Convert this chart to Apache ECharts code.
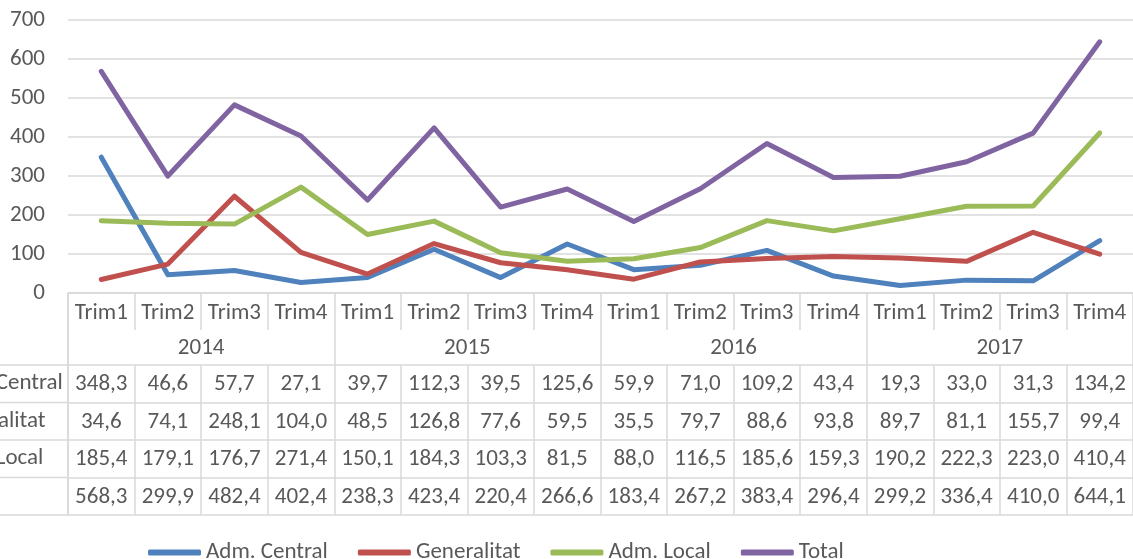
<!DOCTYPE html>
<html>
<head>
<meta charset="utf-8">
<script src="https://cdn.jsdelivr.net/npm/echarts@6/dist/echarts.min.js"></script>
<style>
html,body{margin:0;padding:0;background:#fff;}
#chart{width:1133px;height:559px;}
</style>
</head>
<body>
<div id="chart"></div>
<script>
const quarters = ["Trim1","Trim2","Trim3","Trim4","Trim1","Trim2","Trim3","Trim4","Trim1","Trim2","Trim3","Trim4","Trim1","Trim2","Trim3","Trim4"];
const years = ["2014","2015","2016","2017"];
const seriesNames = ["Adm. Central","Generalitat","Adm. Local","Total"];
const admCentral = [348.3,46.6,57.7,27.1,39.7,112.3,39.5,125.6,59.9,71.0,109.2,43.4,19.3,33.0,31.3,134.2];
const generalitat = [34.6,74.1,248.1,104.0,48.5,126.8,77.6,59.5,35.5,79.7,88.6,93.8,89.7,81.1,155.7,99.4];
const admLocal = [185.4,179.1,176.7,271.4,150.1,184.3,103.3,81.5,88.0,116.5,185.6,159.3,190.2,222.3,223.0,410.4];
const total = [568.3,299.9,482.4,402.4,238.3,423.4,220.4,266.6,183.4,267.2,383.4,296.4,299.2,336.4,410.0,644.1];
const yTicks = [0,100,200,300,400,500,600,700];

const allSeries = [admCentral, generalitat, admLocal, total];
const colors = ["#4F81BD","#C0504D","#9BBB59","#8064A2"];
const FONT = "Carlito, Calibri, 'Liberation Sans', sans-serif";
const FS = 23;
const TXT = "#595959";
const LINE = "#d9d9d9";
const fmt = v => v.toFixed(1).replace('.', ',');

const chart = echarts.init(document.getElementById('chart'), null, {renderer:'canvas'});

const ROW0 = 72;
const ROWH = 37.5;

const xAxes = [];
xAxes.push({
  type:'category', data: quarters, position:'bottom', gridIndex:0, offset:0,
  boundaryGap:true,
  axisLine:{show:true, lineStyle:{color:LINE, width:1.5}},
  axisTick:{show:true, length:37, interval:0, lineStyle:{color:LINE, width:1.5}},
  axisLabel:{interval:0, margin:9, color:TXT, fontSize:FS, fontFamily:FONT},
  splitLine:{show:false}
});
xAxes.push({
  type:'category', data: years, position:'bottom', gridIndex:0, offset:0,
  axisLine:{show:false},
  axisTick:{show:true, length:ROW0, interval:0, lineStyle:{color:LINE, width:1.5}},
  axisLabel:{interval:0, margin:44, color:TXT, fontSize:FS, fontFamily:FONT},
  splitLine:{show:false}
});
allSeries.forEach((arr, i) => {
  xAxes.push({
    type:'category', data: arr.map(fmt), position:'bottom', gridIndex:0, offset: ROW0 + ROWH*i,
    axisLine:{show:true, lineStyle:{color:LINE, width:1.5}},
    axisTick:{show:true, length:ROWH, interval:0, lineStyle:{color:LINE, width:1.5}},
    axisLabel:{interval:0, margin:8, color:TXT, fontSize:FS, fontFamily:FONT},
    splitLine:{show:false}
  });
});
xAxes.push({
  type:'category', data: quarters, position:'bottom', gridIndex:0, offset: ROW0 + ROWH*4,
  axisLine:{show:true, lineStyle:{color:LINE, width:1.5}},
  axisTick:{show:false}, axisLabel:{show:false}, splitLine:{show:false}
});

const graphics = [];
seriesNames.forEach((n, i) => {
  graphics.push({
    type:'text', left:-59, top: 293 + ROW0 + ROWH*i + 7,
    style:{text:n, fill:TXT, font: FS + 'px ' + FONT}
  });
});
for (let i = 0; i <= 4; i++) {
  const y = 293 + ROW0 + ROWH*i;
  graphics.push({type:'line', shape:{x1:0, y1:y, x2:68, y2:y}, style:{stroke:LINE, lineWidth:1.5}});
}
graphics.push({type:'line', shape:{x1:68, y1:293, x2:68, y2:293 + ROW0 + ROWH*4}, style:{stroke:LINE, lineWidth:1.5}});

const option = {
  animation:false,
  backgroundColor:'#fff',
  color: colors,
  grid:{left:68, right:0, top:20, bottom:559-293, containLabel:false},
  legend:{
    data: seriesNames, left:143, top:536, itemWidth:53, itemHeight:6, itemGap:30,
    icon:'roundRect',
    textStyle:{color:TXT, fontSize:FS, fontFamily:FONT}
  },
  xAxis: xAxes,
  yAxis:{
    type:'value', min:yTicks[0], max:yTicks[yTicks.length-1], interval:100,
    axisLine:{show:false}, axisTick:{show:false},
    axisLabel:{color:TXT, fontSize:FS, fontFamily:FONT, margin:23},
    splitLine:{lineStyle:{color:LINE, width:1.5}}
  },
  graphic: graphics,
  series: allSeries.map((arr, i) => ({
    name: seriesNames[i], type:'line', xAxisIndex:0, data: arr,
    showSymbol:false, symbol:'none',
    lineStyle:{width:5, color:colors[i], cap:'round', join:'round'},
    itemStyle:{color:colors[i]}
  }))
};
chart.setOption(option);
</script>
</body>
</html>
